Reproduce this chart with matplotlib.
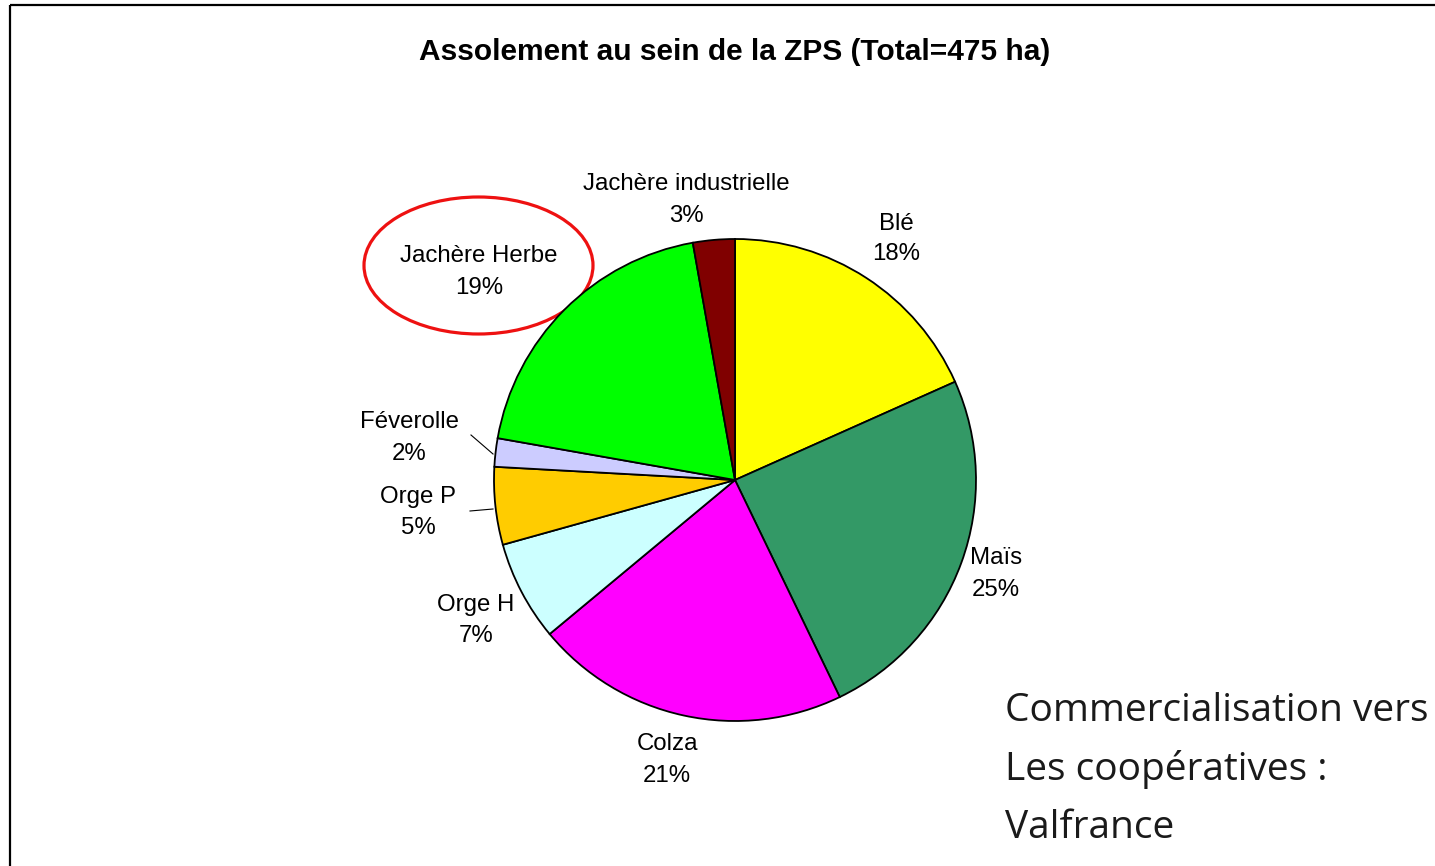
import matplotlib
matplotlib.use("Agg")
import matplotlib.pyplot as plt
from matplotlib.patches import Ellipse, Rectangle

categories = ["Blé", "Maïs", "Colza", "Orge H", "Orge P", "Féverolle",
              "Jachère Herbe", "Jachère industrielle"]
values = [18.3, 24.5, 21.1, 6.7, 5.2, 1.9, 19.4, 2.8]
colors = ["#FFFF00", "#339966", "#FF00FF", "#CCFFFF", "#FFCC00", "#CCCCFF",
          "#00FF00", "#800000"]
title = "Assolement au sein de la ZPS (Total=475 ha)"
note_lines = ["Commercialisation vers", "Les coopératives :", "Valfrance"]

W, H = 1435, 866
fig = plt.figure(figsize=(W / 100, H / 100), dpi=100)
ax = fig.add_axes([0, 0, 1, 1])
ax.set_xlim(0, W)
ax.set_ylim(H, 0)
ax.axis("off")

# Pie drawn in a separate axes so the angles keep the library scale
pax = fig.add_axes([0, 0, 1, 1])
cx, cy, r = 735, H - 480, 241
wedges, _ = pax.pie(values, colors=colors, startangle=90, counterclock=False,
                    center=(cx, cy), radius=r, frame=True,
                    wedgeprops=dict(edgecolor="black", linewidth=1.3))
pax.set_xlim(0, W)
pax.set_ylim(0, H)
pax.set_aspect("equal")
pax.axis("off")

# Figure frame
ax.add_patch(Rectangle((10, 5), W + 20, H + 20, fill=False, edgecolor="black",
                       linewidth=1.6, clip_on=False))

ax.text(735, 52, title, ha="center", va="center", fontsize=21.5,
        fontweight="bold", family="Liberation Sans")

pct = [f"{round(v / sum(values) * 100)}%" for v in values]
label_pos = {
    "Blé": (896, 239),
    "Maïs": (996, 574),
    "Colza": (667, 760),
    "Orge H": (476, 621),
    "Orge P": (418, 513),
    "Féverolle": (409, 438),
    "Jachère Herbe": (479, 272),
    "Jachère industrielle": (686, 200),
}
for cat, p in zip(categories, pct):
    x, y = label_pos[cat]
    ax.text(x, y - 15.5, cat, ha="center", va="center", fontsize=17.3,
            family="Liberation Sans")
    ax.text(x, y + 15.5, p, ha="center", va="center", fontsize=17.3,
            family="Liberation Sans")

# leader lines
ax.plot([471, 493], [435, 454], color="black", linewidth=0.8)
ax.plot([470, 493], [511, 509], color="black", linewidth=0.8)

# Red ellipse highlight
ax.add_patch(Ellipse((478.5, 265.5), 229, 137, fill=False, edgecolor="#EE1111",
                     linewidth=2.3))

for i, line in enumerate(note_lines):
    ax.text(1005, 711 + i * 58.5, line, ha="left", va="center", fontsize=28,
            family="Open Sans", color="#1a1a1a")

fig.savefig("out.png", dpi=100)
